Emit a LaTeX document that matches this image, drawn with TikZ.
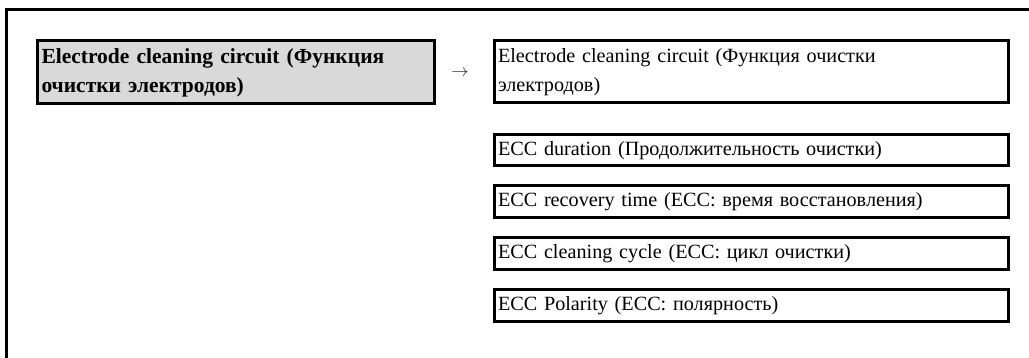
\documentclass[tikz,border=0pt]{standalone}
\usepackage{fontspec}
\setmainfont{Liberation Serif}
\begin{document}
\begin{tikzpicture}[x=1pt,y=-1pt,
  frame/.style={line width=3pt},
  menubox/.style={draw, line width=3pt, anchor=north west, inner sep=0pt, outer sep=0pt,
    minimum height=#1, minimum width=514pt, text width=508pt, align=left,
    font=\fontsize{20.2}{29}\selectfont},
  srcbox/.style={draw, line width=3pt, fill=black!15, anchor=north west, inner sep=0pt, outer sep=0pt,
    minimum height=63pt, minimum width=397pt, text width=392pt, align=left,
    font=\bfseries\fontsize{21.5}{29}\selectfont}
]
\useasboundingbox (0,0) rectangle (1029,358);
\draw[frame] (1029,10) -- (6,10) -- (6,358);
\node[srcbox] (src) at (37,41) {\hspace{2pt}Electrode cleaning circuit (Функция\\\hspace{2pt}очистки электродов)};
\node[font=\fontsize{17}{17}\selectfont, text=black!85] (arr) at (460,73) {$\rightarrow$};
\node[menubox=62pt] (m1) at (494,41) {\hspace{1pt}Electrode cleaning circuit (Функция очистки\\\hspace{1pt}электродов)};
\node[menubox=31pt] (m2) at (494,135) {\hspace{1pt}ECC duration (Продолжительность очистки)};
\node[menubox=32pt] (m3) at (494,186) {\hspace{1pt}ECC recovery time (ECC: время восстановления)};
\node[menubox=32pt] (m4) at (494,238) {\hspace{1pt}ECC cleaning cycle (ECC: цикл очистки)};
\node[menubox=32pt] (m5) at (494,290) {\hspace{1pt}ECC Polarity (ECC: полярность)};
\end{tikzpicture}
\end{document}
